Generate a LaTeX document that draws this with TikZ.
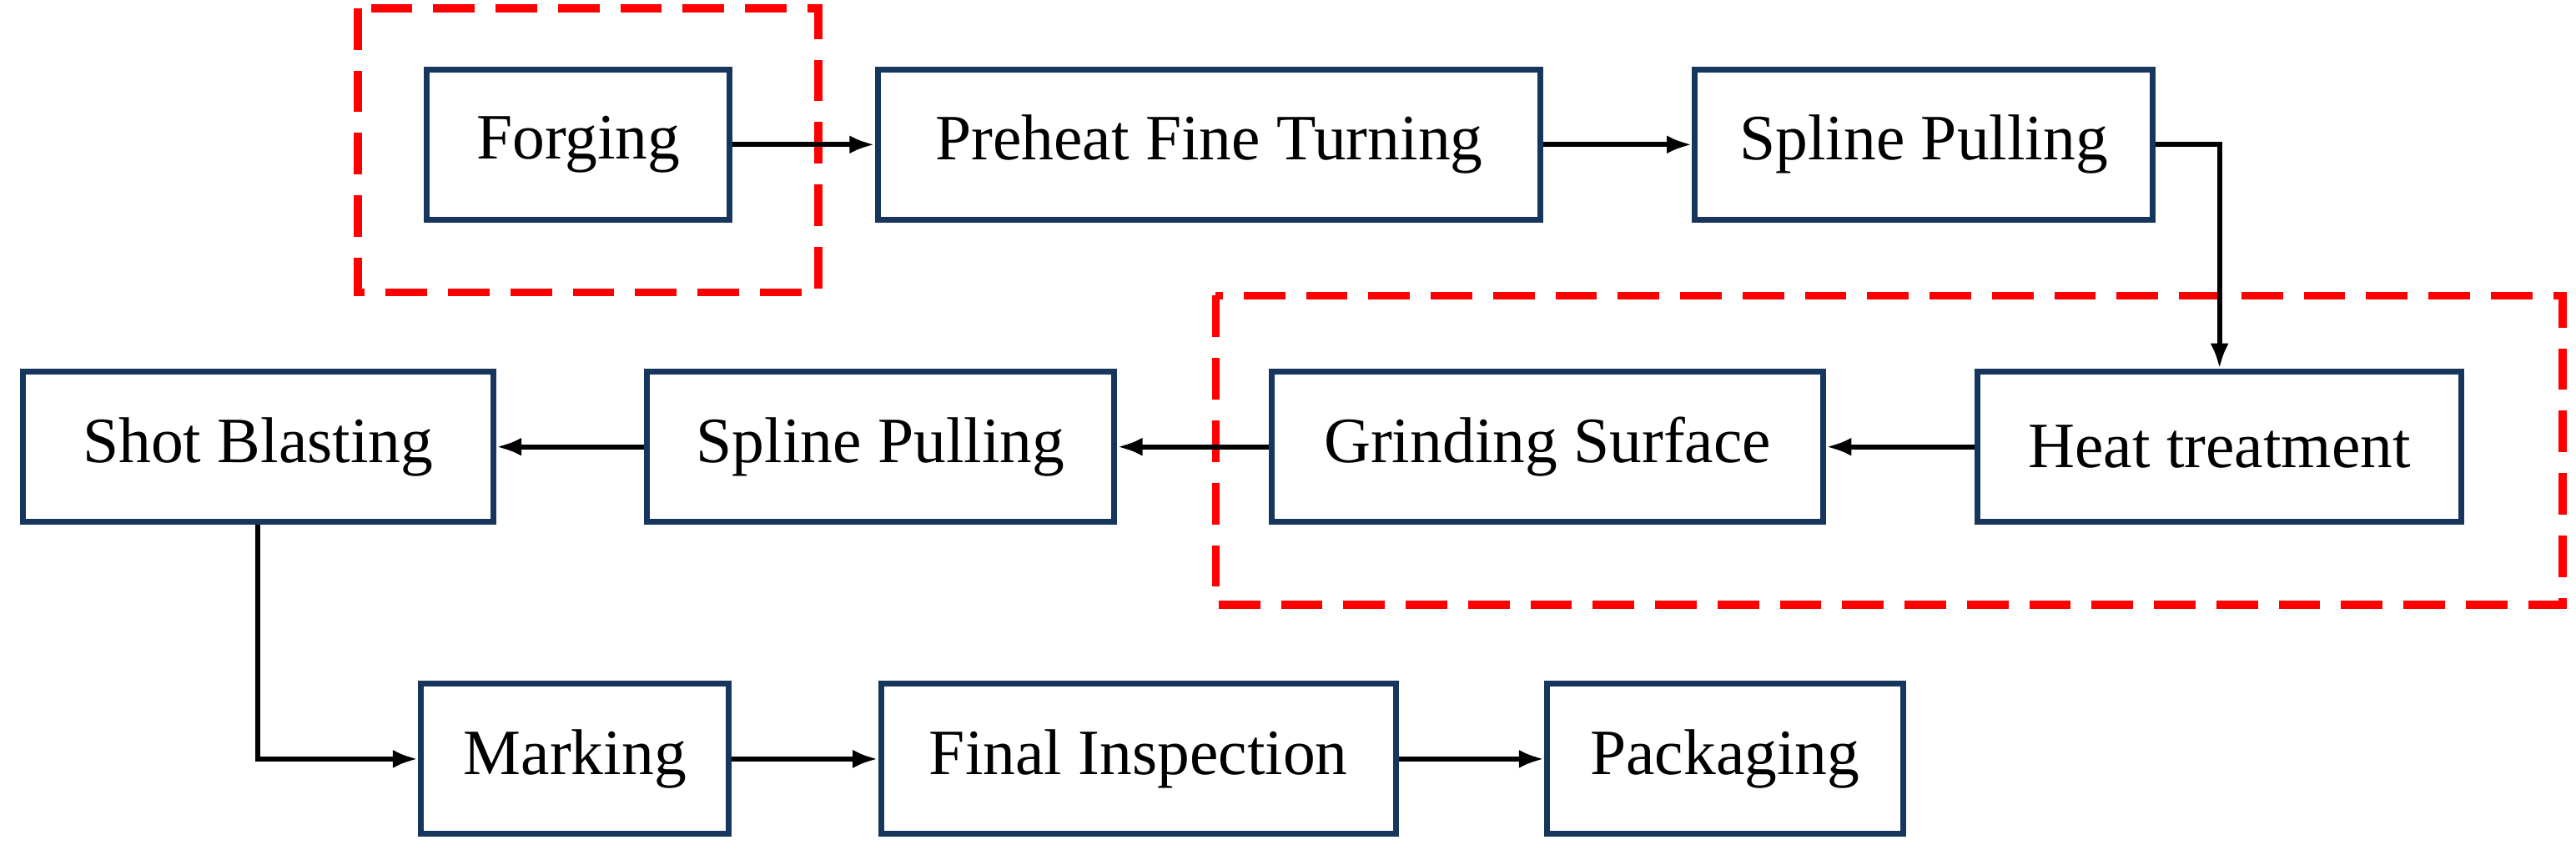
\documentclass[tikz,border=0pt]{standalone}
\usepackage{fontspec}
\setmainfont{Liberation Serif}
\begin{document}
\begin{tikzpicture}[x=0.05cm,y=-0.05cm,
 box/.style={draw={rgb,255:red,23;green,54;blue,93},line width=5pt,inner sep=0pt,font=\fontsize{56}{60}\selectfont},
 arr/.style={line width=4.5pt,-{Latex[length=22pt,width=16pt]}},
 red/.style={draw={rgb,255:red,255;green,0;blue,0},line width=7pt,dash pattern=on 36pt off 18pt}]
\usetikzlibrary{arrows.meta}
\useasboundingbox (0,0) rectangle (1568,520);
\newcommand\bx[6]{\node[box,minimum width=#4*0.05cm-5pt,minimum height=#5*0.05cm-5pt] (#1) at (#2,#3) {#6};}
\bx{forg}{352}{88}{188}{95}{Forging}
\bx{pre}{736}{88}{407}{95}{Preheat Fine Turning}
\bx{sp1}{1171}{88}{282}{95}{Spline Pulling}
\bx{heat}{1351}{272}{298}{95}{Heat treatment}
\bx{grind}{942}{272}{339}{95}{Grinding Surface}
\bx{sp2}{536}{272}{288}{95}{Spline Pulling}
\bx{shot}{157}{272}{290}{95}{Shot Blasting}
\bx{mark}{350}{462}{191}{95}{Marking}
\bx{fin}{693}{462}{317}{95}{Final Inspection}
\bx{pack}{1050}{462}{220}{95}{Packaging}
\draw[red] (218,5) rectangle (498,178);
\draw[red] (740,180) rectangle (1560,368);
\draw[arr] (forg) -- (pre);
\draw[arr] (pre) -- (sp1);
\draw[arr] (sp1.east) -| (heat.north);
\draw[arr] (heat) -- (grind);
\draw[arr] (grind) -- (sp2);
\draw[arr] (sp2) -- (shot);
\draw[arr] (shot.south) |- (mark.west);
\draw[arr] (mark) -- (fin);
\draw[arr] (fin) -- (pack);
\end{tikzpicture}
\end{document}
